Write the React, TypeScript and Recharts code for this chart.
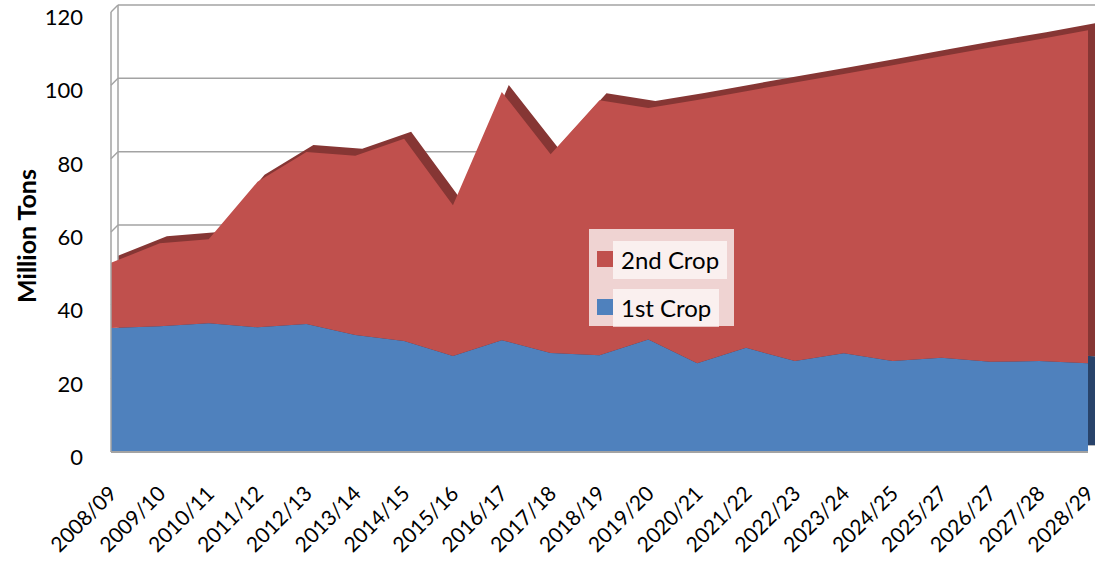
import React from 'react';
import { AreaChart, Area, XAxis, YAxis, CartesianGrid, Legend } from 'recharts';

const years = [
  '2008/09', '2009/10', '2010/11', '2011/12', '2012/13', '2013/14', '2014/15',
  '2015/16', '2016/17', '2017/18', '2018/19', '2019/20', '2020/21', '2021/22',
  '2022/23', '2023/24', '2024/25', '2025/27', '2026/27', '2027/28', '2028/29',
];
const firstCrop = [
  33.8, 34.3, 35.1, 34.0, 34.9, 31.9, 30.3, 26.2, 30.5, 27.0, 26.4,
  30.7, 24.2, 28.4, 24.8, 26.9, 24.8, 25.7, 24.6, 24.8, 24.2,
];
const secondCrop = [
  17.8, 22.6, 22.9, 39.7, 46.9, 48.9, 55.1, 41.1, 67.7, 54.2, 69.5,
  63.1, 71.8, 70.0, 76.0, 76.2, 80.7, 82.2, 85.7, 87.8, 90.8,
];
const yTicks = [0, 20, 40, 60, 80, 100, 120];

const data = years.map((year, i) => ({
  year,
  first: firstCrop[i],
  second: secondCrop[i],
}));

const FONT = 'Lato, "Open Sans", sans-serif';
const W = 1099;
const H = 561;
const margin = { top: 12, right: 11, left: 0, bottom: 0 };
const gridGray = '#A3A3A3';

const XTick = (props: any) => {
  const { x, y, payload } = props;
  const px = x + 7;
  const py = y + 43;
  return (
    <text
      x={px}
      y={py}
      transform={`rotate(-45, ${px}, ${py})`}
      textAnchor="end"
      fontSize={21}
      fontFamily={FONT}
      fill="#000"
    >
      {payload.value}
    </text>
  );
};

const YTick = (props: any) => {
  const { x, y, payload } = props;
  return (
    <text x={x} y={y + 13} textAnchor="end" fontSize={22} fontFamily={FONT} fill="#000">
      {payload.value}
    </text>
  );
};

// little diagonals joining the back wall to the front edge
const WallTick = (props: any) => {
  const { x, y } = props;
  return <line x1={x} y1={y} x2={x - 7} y2={y + 7} stroke={gridGray} strokeWidth={1.5} />;
};

const AxisTitle = (props: any) => {
  const { viewBox } = props;
  const cx = viewBox.x + 26;
  const cy = viewBox.y + viewBox.height / 2 + 4;
  return (
    <text
      x={cx}
      y={cy}
      transform={`rotate(-90, ${cx}, ${cy})`}
      textAnchor="middle"
      dominantBaseline="central"
      fontSize={25}
      fontWeight="bold"
      fontFamily={FONT}
      fill="#000"
    >
      Million Tons
    </text>
  );
};

const LegendBox = (props: any) => {
  const items = [...(props.payload || [])].reverse();
  return (
    <div
      style={{
        width: 145,
        height: 97,
        background: 'rgba(255,255,255,0.75)',
        position: 'relative',
        fontFamily: FONT,
      }}
    >
      {items.map((item: any, i: number) => (
        <div key={item.value} style={{ position: 'absolute', left: 8, top: 12 + i * 48, display: 'flex' }}>
          <div style={{ width: 16, height: 16, marginTop: 10, background: item.color }} />
          <div
            style={{
              height: 38,
              lineHeight: '38px',
              padding: '0 8px',
              fontSize: 24,
              color: '#000',
              background: 'rgba(255,255,255,0.65)',
              whiteSpace: 'nowrap',
            }}
          >
            {item.value}
          </div>
        </div>
      ))}
    </div>
  );
};

const App: React.FC = () => {
  return (
    <div style={{ position: 'absolute', left: 0, top: 0, width: W, height: H, background: '#fff', overflow: 'hidden' }}>
      {/* back wall + depth of the areas */}
      <div style={{ position: 'absolute', left: 7, top: -7 }}>
        <AreaChart width={W} height={H} data={data} margin={margin}>
          <CartesianGrid vertical={false} stroke={gridGray} strokeWidth={1.5} />
          <XAxis dataKey="year" height={109} tick={false} tickLine={false} axisLine={false} />
          <YAxis
            domain={[0, 120]}
            ticks={yTicks}
            width={111}
            tickSize={0}
            tickMargin={0}
            tickLine={false}
            tick={<WallTick />}
            axisLine={{ stroke: gridGray, strokeWidth: 1.5 }}
          />
          <Area type="linear" dataKey="first" stackId="a" stroke="none" fill="#28436A" fillOpacity={1} isAnimationActive={false} />
          <Area type="linear" dataKey="second" stackId="a" stroke="none" fill="#863634" fillOpacity={1} isAnimationActive={false} />
        </AreaChart>
      </div>
      {/* front face */}
      <div style={{ position: 'absolute', left: 0, top: 0 }}>
        <AreaChart width={W} height={H} data={data} margin={margin}>
          <XAxis
            dataKey="year"
            interval={0}
            height={109}
            tickSize={0}
            tickMargin={0}
            tickLine={false}
            tick={<XTick />}
            axisLine={{ stroke: gridGray, strokeWidth: 2 }}
          />
          <YAxis
            domain={[0, 120]}
            ticks={yTicks}
            width={111}
            tickSize={0}
            tickMargin={28}
            tickLine={false}
            tick={<YTick />}
            axisLine={{ stroke: gridGray, strokeWidth: 1.5 }}
            label={<AxisTitle />}
          />
          <Area type="linear" dataKey="first" name="1st Crop" stackId="a" stroke="none" fill="#4F81BD" fillOpacity={1} isAnimationActive={false} />
          <Area type="linear" dataKey="second" name="2nd Crop" stackId="a" stroke="none" fill="#C0504D" fillOpacity={1} isAnimationActive={false} />
          <Legend
            layout="horizontal"
            verticalAlign="middle"
            align="center"
            wrapperStyle={{ left: 589, top: 229, width: 145, height: 97 }}
            content={<LegendBox />}
          />
        </AreaChart>
      </div>
    </div>
  );
};

export default App;
